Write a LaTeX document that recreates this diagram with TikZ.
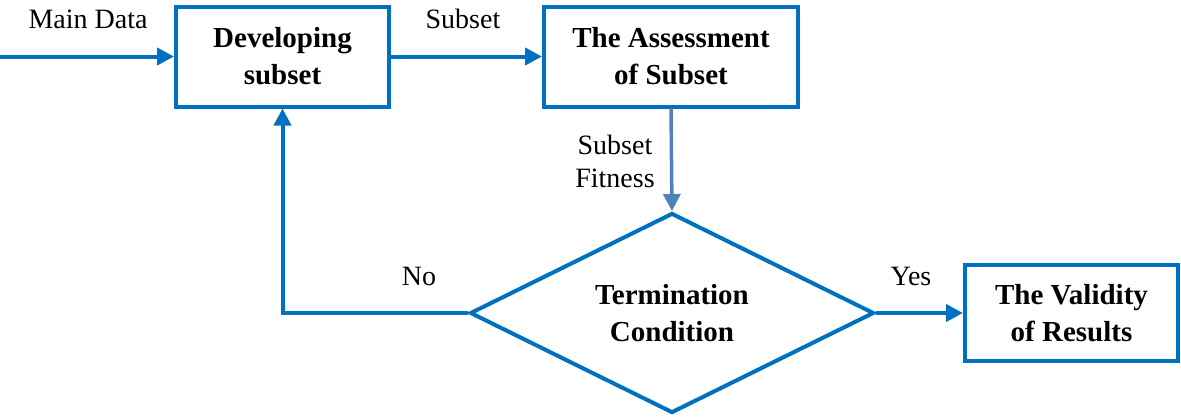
\documentclass[tikz,border=0pt]{standalone}
\usepackage{fontspec}
\setmainfont{Liberation Serif}
\usepackage{xcolor}
\usetikzlibrary{arrows.meta,shapes.geometric}

\definecolor{flowblue}{RGB}{0,112,192}
\definecolor{fitblue}{RGB}{79,129,189}

\begin{document}
\begin{tikzpicture}[x=1pt, y=-1pt,
    box/.style={draw=flowblue, line width=4pt, minimum width=213pt, minimum height=100pt,
      inner sep=0pt, align=center, font=\fontsize{29}{37}\selectfont\bfseries},
    decide/.style={diamond, aspect=2, draw=flowblue, line width=4pt, minimum width=404pt,
      minimum height=200pt, inner sep=0pt, align=center, font=\fontsize{29}{37}\selectfont\bfseries},
    lbl/.style={inner sep=0pt, align=center, font=\fontsize{28}{33}\selectfont},
    flow/.style={flowblue, line width=4pt, -{Triangle[length=17pt,width=17pt]}}]
  \useasboundingbox (0,0) rectangle (1181,416);

  % boxes
  \node[box] (dev) at (282.5,56.5) {Developing\\subset};
  \node[box, minimum width=254pt] (assess) at (671,56.5) {The Assessment\\of Subset};
  \node[decide] (cond) at (672,313) {Termination\\Condition};
  \node[box, minimum height=96pt] (valid) at (1071.5,313) {The Validity\\of Results};

  % arrows
  \coordinate (in) at (0,56.5);
  \draw[flow] (in) -- (dev.west);
  \draw[flow] (dev.east) -- (assess.west);
  \draw[flow, fitblue, line width=3.5pt] (assess.south) -- (cond.north);
  \draw[flow] (cond.west) -| (dev.south);
  \draw[flow] (cond.east) -- (valid.west);

  % labels
  \node[lbl] (mainlbl) at (88,19) {Main Data};
  \node[lbl] (sublbl) at (463,19) {Subset};
  \node[lbl] (fitlbl) at (615,161) {Subset\\Fitness};
  \node[lbl] (nolbl) at (419,276) {No};
  \node[lbl] (yeslbl) at (911,276) {Yes};
\end{tikzpicture}
\end{document}
